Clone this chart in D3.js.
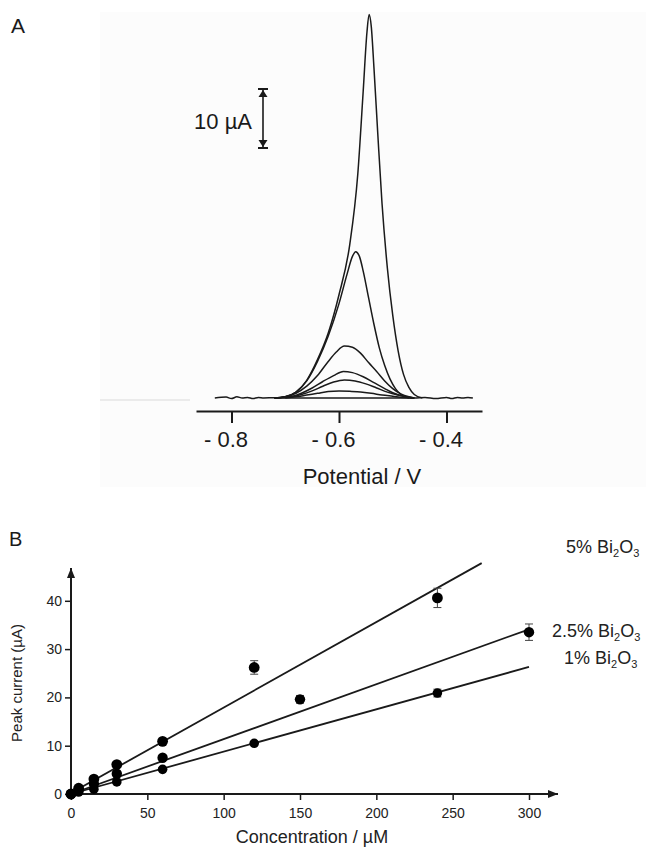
<!DOCTYPE html>
<html>
<head>
<meta charset="utf-8">
<script src="https://cdn.jsdelivr.net/npm/d3@7"></script>
<style>
  body { margin: 0; background: #fff; }
  svg { display: block; font-family: "Liberation Sans", Arial, sans-serif; }
</style>
</head>
<body>
<svg id="fig" width="646" height="848"></svg>
<script>
// ---------- panel A : voltammograms (potential V, current uA) ----------
var potentialTicks = [-0.8, -0.6, -0.4]
var potentialTickLabels = ["- 0.8", "- 0.6", "- 0.4"]
var scaleBarValue = 10

var blank = [[-0.831, 0], [-0.81, 0.15], [-0.80, -0.1], [-0.79, 0.2], [-0.78, 0], [-0.77, 0.1], [-0.76, -0.1],
  [-0.75, 0.1], [-0.74, 0], [-0.72, 0.05], [-0.70, 0], [-0.60, 0], [-0.50, 0], [-0.46, 0], [-0.44, 0.1],
  [-0.42, -0.1], [-0.40, 0.1], [-0.39, -0.1], [-0.38, 0.1], [-0.37, 0], [-0.36, 0.1], [-0.351, 0]]

var trace1 = [[-0.72, 0], [-0.70, 0.2], [-0.68, 1.0], [-0.66, 3.0], [-0.64, 6.5], [-0.62, 11.0], [-0.60, 17.5],
  [-0.58, 26], [-0.565, 38], [-0.555, 52], [-0.548, 62], [-0.544, 65], [-0.540, 63], [-0.535, 56],
  [-0.528, 45], [-0.520, 33], [-0.510, 22], [-0.500, 14], [-0.490, 8], [-0.480, 4], [-0.470, 1.8],
  [-0.460, 0.6], [-0.445, 0]]
var trace2 = [[-0.72, 0], [-0.70, 0.2], [-0.68, 1.0], [-0.66, 2.9], [-0.64, 6.2], [-0.62, 10.5], [-0.60, 16],
  [-0.585, 21], [-0.575, 24], [-0.569, 24.8], [-0.562, 24], [-0.555, 21.5], [-0.545, 17], [-0.535, 12.5],
  [-0.525, 8.5], [-0.515, 5.5], [-0.505, 3.2], [-0.495, 1.6], [-0.485, 0.6], [-0.47, 0]]
var trace3 = [[-0.72, 0], [-0.70, 0.2], [-0.68, 0.8], [-0.66, 2.0], [-0.64, 3.8], [-0.62, 6.2], [-0.605, 7.8],
  [-0.59, 8.8], [-0.575, 8.6], [-0.56, 7.6], [-0.545, 6.0], [-0.53, 4.5], [-0.515, 2.9], [-0.50, 1.6],
  [-0.485, 0.7], [-0.47, 0.2], [-0.46, 0]]
var trace4 = [[-0.72, 0], [-0.69, 0.2], [-0.67, 0.8], [-0.65, 1.7], [-0.63, 2.8], [-0.61, 3.8], [-0.592, 4.5],
  [-0.575, 4.3], [-0.555, 3.6], [-0.535, 2.6], [-0.515, 1.6], [-0.50, 0.9], [-0.485, 0.4], [-0.47, 0.1], [-0.46, 0]]
var trace5 = [[-0.72, 0], [-0.69, 0.2], [-0.67, 0.6], [-0.65, 1.2], [-0.63, 2.0], [-0.61, 2.7], [-0.59, 3.05],
  [-0.57, 2.9], [-0.55, 2.4], [-0.53, 1.7], [-0.51, 1.0], [-0.49, 0.5], [-0.475, 0.2], [-0.46, 0]]
var trace6 = [[-0.70, 0], [-0.68, 0.2], [-0.66, 0.5], [-0.64, 0.8], [-0.62, 1.1], [-0.60, 1.2], [-0.58, 1.15],
  [-0.56, 1.0], [-0.54, 0.8], [-0.52, 0.5], [-0.50, 0.3], [-0.48, 0.1], [-0.46, 0]]

// ---------- panel B : calibration (concentration uM, peak current uA) ----------
var concTicks = [0, 50, 100, 150, 200, 250, 300]
var currentTicks = [0, 10, 20, 30, 40]

var conc5 = [0, 5, 15, 30, 60, 120, 240]
var current5 = [0, 1.2, 3.1, 6.1, 10.9, 26.2, 40.6]
var error5 = [0.2, 0.2, 0.3, 0.3, 0.4, 1.4, 2.0]
var conc25 = [0, 5, 15, 30, 60, 150, 300]
var current25 = [0, 0.8, 2.1, 4.2, 7.5, 19.6, 33.5]
var error25 = [0.2, 0.2, 0.3, 0.3, 0.4, 0.8, 1.7]
var conc1 = [0, 5, 15, 30, 60, 120, 240]
var current1 = [0, 0.4, 1.0, 2.5, 5.1, 10.5, 20.9]
var error1 = [0.2, 0.2, 0.2, 0.3, 0.3, 0.4, 0.8]

var fit5 = [[0, 0.2], [269, 47.8]]
var fit25 = [[0, 0], [300, 34.1]]
var fit1 = [[0, 0], [300, 26.3]]

var seriesLabels = ["5%", "2.5%", "1%"]

var svg = d3.select("#fig")
var ink = "#1a1a1a"

// faint scanned backgrounds
svg.append("rect").attr("x", 100).attr("y", 12).attr("width", 546).attr("height", 475).attr("fill", "#fcfcfc")
svg.append("line").attr("x1", 100).attr("x2", 190).attr("y1", 400).attr("y2", 400)
  .attr("stroke", "#e6e6e6").attr("stroke-width", 1.5)

var defs = svg.append("defs")
defs.append("marker").attr("id", "arrow").attr("viewBox", "0 0 10 10")
  .attr("refX", 10).attr("refY", 5).attr("markerWidth", 10).attr("markerHeight", 10)
  .attr("markerUnits", "userSpaceOnUse").attr("orient", "auto")
  .append("path").attr("d", "M0,1 L10,5 L0,9 Z").attr("fill", ink)

// ================= panel A =================
var xA = d3.scaleLinear().domain([-0.866, -0.334]).range([196, 482])
var yA = d3.scaleLinear().domain([0, 65]).range([398, 14.5])

svg.append("text").attr("x", 11).attr("y", 33).attr("font-size", 21).attr("fill", ink).text("A")

var axisA = svg.append("g").attr("transform", "translate(0,411)")
  .call(d3.axisBottom(xA).tickValues(potentialTicks)
    .tickFormat((d, i) => potentialTickLabels[i]).tickSize(12).tickSizeOuter(0).tickPadding(8))
axisA.select(".domain").attr("stroke", ink).attr("stroke-width", 2.2)
axisA.selectAll(".tick line").attr("stroke", ink).attr("stroke-width", 2)
axisA.selectAll(".tick text").attr("font-size", 22).attr("fill", ink).attr("dx", -6)
  .attr("font-family", "Liberation Sans, Arial, sans-serif")

svg.append("text").attr("x", 362).attr("y", 484).attr("text-anchor", "middle")
  .attr("font-size", 22).attr("fill", ink).text("Potential / V")

var lineA = d3.line().x(d => xA(d[0])).y(d => yA(d[1])).curve(d3.curveMonotoneX)
var traces = [blank, trace6, trace5, trace4, trace3, trace2, trace1]
svg.append("g").selectAll("path").data(traces).enter().append("path")
  .attr("d", lineA).attr("fill", "none").attr("stroke", ink).attr("stroke-width", 1.5)
  .attr("stroke-linejoin", "round")

// scale bar
var barX = 263, barBottom = 148
var barTop = barBottom - (yA(0) - yA(scaleBarValue))
var bar = svg.append("g").attr("stroke", ink).attr("fill", ink)
bar.append("line").attr("x1", barX).attr("x2", barX).attr("y1", barTop).attr("y2", barBottom).attr("stroke-width", 1.6)
bar.append("line").attr("x1", barX - 5).attr("x2", barX + 5).attr("y1", barTop).attr("y2", barTop).attr("stroke-width", 2)
bar.append("line").attr("x1", barX - 5).attr("x2", barX + 5).attr("y1", barBottom).attr("y2", barBottom).attr("stroke-width", 2)
bar.append("path").attr("stroke", "none")
  .attr("d", `M${barX - 4.5},${barTop + 8} L${barX + 4.5},${barTop + 8} L${barX},${barTop + 1} Z`)
bar.append("path").attr("stroke", "none")
  .attr("d", `M${barX - 4.5},${barBottom - 8} L${barX + 4.5},${barBottom - 8} L${barX},${barBottom - 1} Z`)
svg.append("text").attr("x", 252).attr("y", 129).attr("text-anchor", "end")
  .attr("font-size", 22).attr("fill", ink).text(scaleBarValue + " \u00b5A")

// ================= panel B =================
var xB = d3.scaleLinear().domain([0, 300]).range([71, 529])
var yB = d3.scaleLinear().domain([0, 40]).range([794, 600.8])

svg.append("text").attr("x", 9).attr("y", 546).attr("font-size", 20).attr("fill", ink).text("B")

var gx = svg.append("g").attr("transform", "translate(0," + yB(0) + ")")
  .call(d3.axisBottom(xB).tickValues(concTicks).tickSize(6).tickPadding(8))
gx.select(".domain").remove()
gx.selectAll(".tick line").attr("stroke", ink).attr("stroke-width", 1.5)
gx.selectAll(".tick text").attr("font-size", 14).attr("fill", "#222")
  .attr("font-family", "Liberation Sans, Arial, sans-serif")

var gy = svg.append("g").attr("transform", "translate(" + xB(0) + ",0)")
  .call(d3.axisLeft(yB).tickValues(currentTicks).tickSize(6).tickPadding(3))
gy.select(".domain").remove()
gy.selectAll(".tick line").attr("stroke", ink).attr("stroke-width", 1.5)
gy.selectAll(".tick text").attr("font-size", 14).attr("fill", "#222")
  .attr("font-family", "Liberation Sans, Arial, sans-serif")

svg.append("line").attr("x1", xB(0) - 1).attr("x2", xB(319)).attr("y1", yB(0)).attr("y2", yB(0))
  .attr("stroke", ink).attr("stroke-width", 2).attr("marker-end", "url(#arrow)")
svg.append("line").attr("x1", xB(0)).attr("x2", xB(0)).attr("y1", yB(0) + 1).attr("y2", yB(46.8))
  .attr("stroke", ink).attr("stroke-width", 2).attr("marker-end", "url(#arrow)")

svg.append("text").attr("transform", "translate(22,683) rotate(-90)").attr("text-anchor", "middle")
  .attr("font-size", 15).attr("fill", "#222").text("Peak current (\u00b5A)")
svg.append("text").attr("x", 312).attr("y", 843).attr("text-anchor", "middle")
  .attr("font-size", 18).attr("fill", "#222").text("Concentration / \u00b5M")

// fit lines
var fits = [fit5, fit25, fit1]
var lineB = d3.line().x(d => xB(d[0])).y(d => yB(d[1]))
svg.append("g").selectAll("path").data(fits).enter().append("path")
  .attr("d", lineB).attr("stroke", ink).attr("stroke-width", 1.8).attr("fill", "none")

// points with error bars
var series = [
  {conc: conc5, cur: current5, err: error5, r: 5.4},
  {conc: conc25, cur: current25, err: error25, r: 5.2},
  {conc: conc1, cur: current1, err: error1, r: 4.8}
]
series.forEach(s => {
  var pts = s.conc.map((c, i) => ({c: c, v: s.cur[i], e: s.err[i]}))
  var g = svg.append("g")
  var eb = g.selectAll("g.eb").data(pts).enter().append("g").attr("class", "eb")
    .attr("stroke", "#444").attr("stroke-width", 1)
  eb.append("line").attr("x1", d => xB(d.c)).attr("x2", d => xB(d.c))
    .attr("y1", d => yB(d.v + d.e)).attr("y2", d => yB(d.v - d.e))
  eb.append("line").attr("x1", d => xB(d.c) - 4).attr("x2", d => xB(d.c) + 4)
    .attr("y1", d => yB(d.v + d.e)).attr("y2", d => yB(d.v + d.e))
  eb.append("line").attr("x1", d => xB(d.c) - 4).attr("x2", d => xB(d.c) + 4)
    .attr("y1", d => yB(d.v - d.e)).attr("y2", d => yB(d.v - d.e))
  g.selectAll("circle").data(pts).enter().append("circle")
    .attr("cx", d => xB(d.c)).attr("cy", d => yB(d.v)).attr("r", s.r).attr("fill", "#000")
})

// series labels
var labelPos = [[566, 553], [552, 637], [564, 664]]
seriesLabels.forEach((lab, i) => {
  var t = svg.append("text").attr("x", labelPos[i][0]).attr("y", labelPos[i][1])
    .attr("font-size", 18).attr("fill", "#222")
  t.append("tspan").text(lab + " Bi")
  t.append("tspan").attr("font-size", 11).attr("dy", 4).text("2")
  t.append("tspan").attr("dy", -4).text("O")
  t.append("tspan").attr("font-size", 11).attr("dy", 4).text("3")
})
</script>
</body>
</html>
